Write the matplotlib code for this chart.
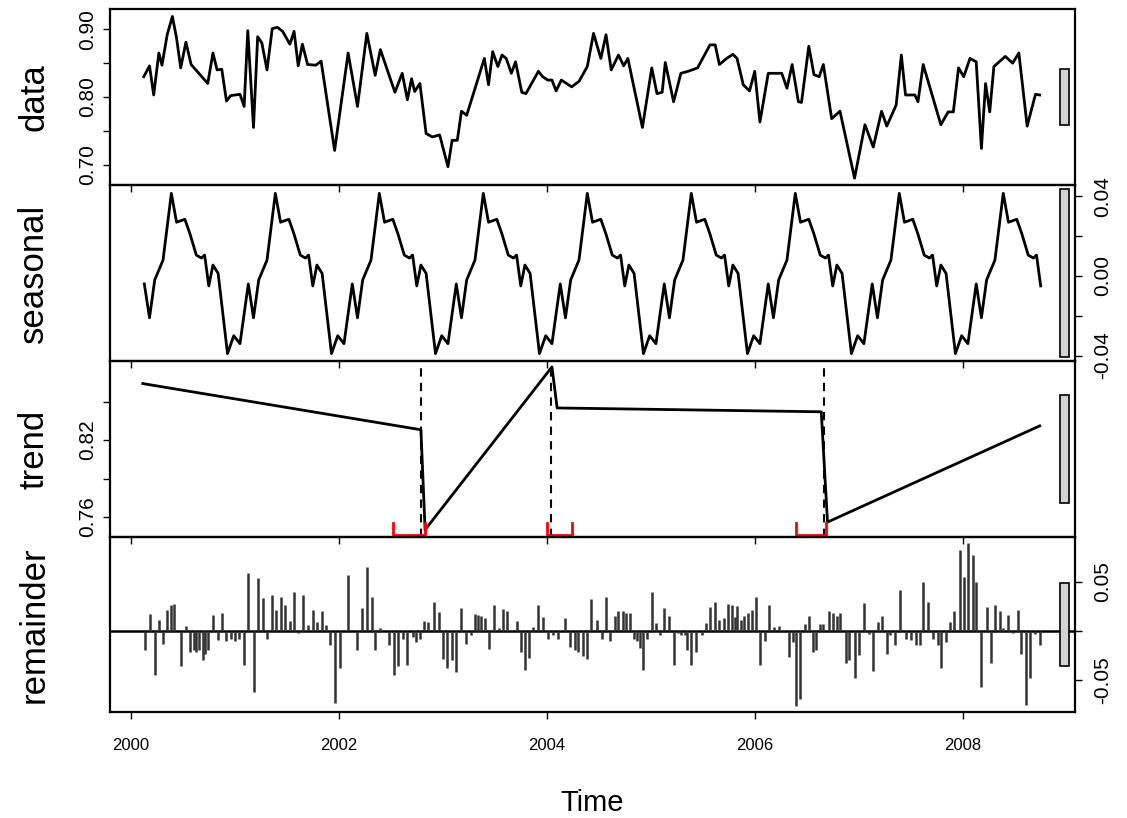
import numpy as np
import matplotlib.pyplot as plt
import matplotlib.transforms as mtransforms
from matplotlib.patches import Rectangle

plt.rcParams['font.family'] = ['Liberation Sans', 'DejaVu Sans']
NARROW = ['Liberation Sans Narrow', 'Liberation Sans', 'DejaVu Sans']

# observed series (time in decimal years, NDVI-like values)
data_t = [2000.125, 2000.18, 2000.22, 2000.27, 2000.30, 2000.35, 2000.40, 2000.44, 2000.48, 2000.53, 2000.58, 2000.74, 2000.79, 2000.83, 2000.875, 2000.92, 2000.96,
          2001.05, 2001.09, 2001.125, 2001.18, 2001.22, 2001.26, 2001.31, 2001.36, 2001.41, 2001.46, 2001.53, 2001.57, 2001.61, 2001.65, 2001.70, 2001.78, 2001.83, 2001.96,
          2002.09, 2002.18, 2002.27, 2002.35, 2002.40, 2002.54, 2002.61, 2002.66, 2002.70, 2002.73, 2002.78, 2002.84, 2002.90, 2002.97,
          2003.05, 2003.09, 2003.14, 2003.18, 2003.23, 2003.40, 2003.44, 2003.48, 2003.53, 2003.57, 2003.61, 2003.66, 2003.70, 2003.76, 2003.80, 2003.92, 2003.96,
          2004.01, 2004.05, 2004.09, 2004.14, 2004.24, 2004.31, 2004.39, 2004.45, 2004.52, 2004.57, 2004.62, 2004.69, 2004.74, 2004.78, 2004.92,
          2005.01, 2005.06, 2005.11, 2005.14, 2005.22, 2005.29, 2005.36, 2005.45, 2005.57, 2005.62, 2005.66, 2005.73, 2005.79, 2005.83, 2005.89, 2005.95,
          2006.00, 2006.05, 2006.13, 2006.26, 2006.31, 2006.36, 2006.42, 2006.45, 2006.52, 2006.57, 2006.62, 2006.66, 2006.74, 2006.82, 2006.96,
          2007.06, 2007.14, 2007.22, 2007.27, 2007.36, 2007.41, 2007.45, 2007.54, 2007.57, 2007.62, 2007.79, 2007.86, 2007.91, 2007.96,
          2008.01, 2008.07, 2008.13, 2008.18, 2008.22, 2008.26, 2008.30, 2008.41, 2008.48, 2008.54, 2008.62, 2008.70, 2008.74]
data_v = [0.830, 0.846, 0.803, 0.865, 0.847, 0.892, 0.919, 0.887, 0.843, 0.881, 0.848, 0.820, 0.865, 0.840, 0.841, 0.794, 0.802,
          0.804, 0.786, 0.898, 0.755, 0.889, 0.880, 0.840, 0.901, 0.903, 0.897, 0.878, 0.897, 0.846, 0.878, 0.848, 0.847, 0.853, 0.721,
          0.865, 0.786, 0.894, 0.832, 0.870, 0.807, 0.835, 0.796, 0.827, 0.808, 0.820, 0.746, 0.741, 0.744,
          0.697, 0.736, 0.736, 0.779, 0.773, 0.857, 0.818, 0.867, 0.845, 0.862, 0.857, 0.835, 0.852, 0.807, 0.805, 0.838, 0.830,
          0.825, 0.825, 0.809, 0.825, 0.815, 0.823, 0.845, 0.894, 0.857, 0.892, 0.840, 0.862, 0.846, 0.857, 0.755,
          0.843, 0.805, 0.807, 0.851, 0.793, 0.835, 0.838, 0.843, 0.877, 0.877, 0.848, 0.857, 0.863, 0.857, 0.818, 0.809,
          0.838, 0.763, 0.835, 0.835, 0.813, 0.848, 0.793, 0.792, 0.875, 0.833, 0.830, 0.848, 0.768, 0.779, 0.680,
          0.759, 0.726, 0.779, 0.757, 0.788, 0.862, 0.803, 0.803, 0.793, 0.848, 0.759, 0.778, 0.778, 0.843,
          0.830, 0.857, 0.852, 0.724, 0.820, 0.778, 0.845, 0.860, 0.850, 0.865, 0.757, 0.804, 0.803]

# one seasonal cycle (fraction of year, value); same shape every year
season_phase = [0.05, 0.13, 0.18, 0.23, 0.27, 0.31, 0.39, 0.44, 0.52, 0.57, 0.63, 0.68, 0.71, 0.75, 0.79, 0.84, 0.93, 0.99]
season_value = [-0.034, -0.004, -0.021, -0.002, 0.003, 0.008, 0.0415, 0.027, 0.0285, 0.021, 0.0105, 0.009, 0.0105, -0.005, 0.0055, 0.0013, -0.039, -0.030]
season_years = list(range(2000, 2009))
series_start, series_end = 2000.12, 2008.75

# piecewise linear trend
trend_t = [2000.115, 2002.79, 2002.83, 2004.05, 2004.10, 2006.64, 2006.70, 2008.74]
trend_v = [0.864, 0.828, 0.750, 0.877, 0.845, 0.842, 0.756, 0.831]

# breakpoints and their confidence intervals
breaks = [2002.795, 2004.045, 2006.67]
ci_low = [2002.52, 2004.00, 2006.40]
ci_high = [2002.83, 2004.24, 2006.69]

# remainder
rem_t = [2000.14, 2000.18, 2000.23, 2000.27, 2000.31, 2000.35, 2000.39, 2000.42, 2000.48, 2000.53, 2000.57, 2000.61, 2000.63, 2000.66, 2000.69, 2000.71, 2000.74, 2000.79, 2000.84, 2000.88, 2000.92, 2000.96,
         2001.00, 2001.045, 2001.09, 2001.13, 2001.18, 2001.22, 2001.27, 2001.31, 2001.36, 2001.40, 2001.44, 2001.48, 2001.53, 2001.57, 2001.61, 2001.66, 2001.70, 2001.75, 2001.79, 2001.84, 2001.88, 2001.92, 2001.96,
         2002.01, 2002.09, 2002.18, 2002.22, 2002.27, 2002.32, 2002.35, 2002.40, 2002.48, 2002.53, 2002.57, 2002.62, 2002.66, 2002.71, 2002.74, 2002.78, 2002.82, 2002.86, 2002.92, 2002.96,
         2003.00, 2003.04, 2003.09, 2003.13, 2003.18, 2003.22, 2003.27, 2003.31, 2003.34, 2003.37, 2003.41, 2003.44, 2003.49, 2003.54, 2003.58, 2003.62, 2003.66, 2003.71, 2003.75, 2003.79, 2003.83, 2003.87, 2003.92, 2003.96,
         2004.01, 2004.06, 2004.11, 2004.18, 2004.22, 2004.27, 2004.30, 2004.35, 2004.39, 2004.43, 2004.48, 2004.53, 2004.57, 2004.61, 2004.66, 2004.69, 2004.73, 2004.76, 2004.80, 2004.84, 2004.87, 2004.90, 2004.93, 2004.96,
         2005.01, 2005.05, 2005.09, 2005.13, 2005.18, 2005.22, 2005.26, 2005.29, 2005.33, 2005.35, 2005.39, 2005.44, 2005.49, 2005.53, 2005.57, 2005.62, 2005.66, 2005.70, 2005.74, 2005.78, 2005.81, 2005.83, 2005.87, 2005.90, 2005.94, 2005.97,
         2006.01, 2006.05, 2006.10, 2006.14, 2006.19, 2006.23, 2006.28, 2006.33, 2006.37, 2006.40, 2006.44, 2006.48, 2006.52, 2006.56, 2006.59, 2006.63, 2006.66, 2006.71, 2006.75, 2006.79, 2006.82, 2006.88, 2006.91, 2006.96,
         2007.00, 2007.05, 2007.10, 2007.14, 2007.19, 2007.22, 2007.27, 2007.30, 2007.35, 2007.40, 2007.45, 2007.50, 2007.55, 2007.59, 2007.62, 2007.67, 2007.71, 2007.76, 2007.79, 2007.84, 2007.88, 2007.92, 2007.97,
         2008.01, 2008.05, 2008.10, 2008.13, 2008.18, 2008.23, 2008.27, 2008.31, 2008.36, 2008.39, 2008.44, 2008.48, 2008.53, 2008.56, 2008.61, 2008.65, 2008.70, 2008.74]
rem_v = [-0.019, 0.017, -0.045, 0.011, -0.013, 0.021, 0.026, 0.028, -0.036, 0.005, -0.021, -0.019, -0.021, -0.019, -0.030, -0.023, -0.019, 0.016, -0.009, 0.018, -0.010, -0.008,
         -0.010, -0.008, -0.035, 0.059, -0.062, 0.054, 0.034, -0.008, 0.037, 0.021, 0.035, 0.027, 0.010, 0.040, -0.002, 0.037, 0.006, 0.021, 0.009, 0.020, 0.006, -0.014, -0.074,
         -0.038, 0.057, -0.019, 0.023, 0.065, 0.035, -0.019, 0.003, -0.014, -0.045, -0.036, -0.008, -0.035, -0.006, -0.011, -0.008, 0.010, 0.009, 0.030, 0.019,
         -0.029, -0.038, -0.030, -0.042, 0.023, -0.013, -0.004, 0.017, 0.016, 0.015, 0.013, -0.018, 0.027, 0.003, 0.022, 0.020, -0.001, 0.010, -0.021, -0.040, -0.028, 0.004, 0.027, 0.014,
         -0.008, -0.004, -0.008, 0.013, -0.016, -0.019, -0.021, -0.026, -0.029, 0.033, 0.011, -0.008, 0.035, -0.010, 0.015, 0.020, 0.020, 0.018, 0.018, -0.008, -0.010, -0.017, -0.040, -0.008,
         0.040, 0.008, -0.004, 0.023, 0.015, -0.035, -0.002, -0.004, -0.004, -0.019, -0.035, -0.021, -0.004, 0.008, 0.024, 0.030, 0.011, 0.013, 0.028, 0.027, 0.014, 0.025, 0.011, 0.015, 0.018, 0.021,
         0.035, -0.035, -0.010, 0.026, 0.004, 0.005, -0.001, -0.027, -0.011, -0.077, -0.069, 0.007, 0.015, -0.021, -0.019, 0.007, 0.007, 0.020, 0.018, 0.015, 0.018, -0.033, -0.030, -0.048,
         -0.025, 0.029, -0.003, -0.041, 0.009, 0.015, -0.023, -0.004, -0.014, 0.042, -0.008, -0.009, -0.014, -0.014, 0.050, 0.030, -0.008, -0.014, -0.038, -0.011, 0.009, 0.020, 0.083,
         0.055, 0.090, 0.078, 0.050, -0.057, 0.024, -0.033, 0.027, 0.020, 0.003, 0.016, -0.002, 0.021, -0.023, -0.076, -0.048, -0.003, -0.014]

# build the seasonal line from the yearly cycle
seas_t, seas_v = [], []
for yr in season_years:
    for ph, val in zip(season_phase, season_value):
        if series_start <= yr + ph <= series_end:
            seas_t.append(yr + ph)
            seas_v.append(val)

fig = plt.figure(figsize=(11.27, 8.18), dpi=100)

edges = [9, 185, 361, 537, 712]
left = 110 / 1127
width = (1075 - 110) / 1127
axes = []
for i in range(4):
    top = 1 - edges[i] / 818
    bot = 1 - edges[i + 1] / 818
    axes.append(fig.add_axes([left, bot, width, top - bot]))
ax_d, ax_s, ax_t, ax_r = axes

bar_h = 0.084


def setup(ax, name, ylim, ticks, labels, side):
    ax.set_facecolor('none')
    ax.set_xlim(1999.80, 2009.08)
    ax.set_ylim(*ylim)
    ax.set_yticks(ticks)
    ax.set_yticklabels(labels)
    if side == 'right':
        ax.yaxis.tick_right()
        ax.tick_params(axis='y', pad=8)
    else:
        ax.tick_params(axis='y', pad=4)
    ax.tick_params(axis='y', labelrotation=90, length=5, width=1, labelsize=15)
    for t in ax.get_yticklabels():
        t.set_va('center')
    ax.set_xticks([2000, 2002, 2004, 2006, 2008])
    ax.tick_params(axis='x', length=5, width=1, labelbottom=False)
    ax.set_ylabel(name, fontsize=25)
    ax.yaxis.set_label_position('left')
    ax.yaxis.set_label_coords(-0.062, 0.5)
    for s in ax.spines.values():
        s.set_linewidth(1.6)
    # range bar
    mid = (ylim[0] + ylim[1]) / 2
    ax.add_patch(Rectangle((2008.94, mid - bar_h / 2), 0.087, bar_h,
                           facecolor='#d3d3d3', edgecolor='black', lw=1.2, zorder=3))


setup(ax_d, 'data', (0.670, 0.930), [0.70, 0.75, 0.80, 0.85, 0.90],
      ['0.70', '', '0.80', '', '0.90'], 'left')
setup(ax_s, 'seasonal', (-0.0427, 0.0457), [-0.04, -0.02, 0.0, 0.02, 0.04],
      ['-0.04', '', '0.00', '', '0.04'], 'right')
setup(ax_t, 'trend', (0.7444, 0.8816), [0.76, 0.79, 0.82, 0.85],
      ['0.76', '', '0.82', ''], 'left')
setup(ax_r, 'remainder', (-0.0827, 0.0959), [-0.05, 0.0, 0.05],
      ['-0.05', '', '0.05'], 'right')

ax_d.plot(data_t, data_v, color='black', lw=2.0)
ax_s.plot(seas_t, seas_v, color='black', lw=2.0)
ax_t.plot(trend_t, trend_v, color='black', lw=2.0)

trans = mtransforms.blended_transform_factory(ax_t.transData, ax_t.transAxes)
for bp, lo, hi in zip(breaks, ci_low, ci_high):
    ax_t.axvline(bp, color='black', lw=1.5, ls=(0, (4, 3)))
    ax_t.plot([lo, lo, hi, hi], [0.08, 0.012, 0.012, 0.08], color='red', lw=2,
              transform=trans, clip_on=False, zorder=4)

ax_r.axhline(0, color='black', lw=1.8)
ax_r.vlines(rem_t, 0, rem_v, color='#333333', lw=1.8)

ax_r.tick_params(axis='x', labelbottom=True, pad=14, labelsize=12)
for t in ax_r.get_xticklabels():
    t.set_family(NARROW)
fig.text(0.5257, 0.018, 'Time', ha='center', va='center', fontsize=21, family=NARROW)

fig.savefig('out.png', dpi=100)
